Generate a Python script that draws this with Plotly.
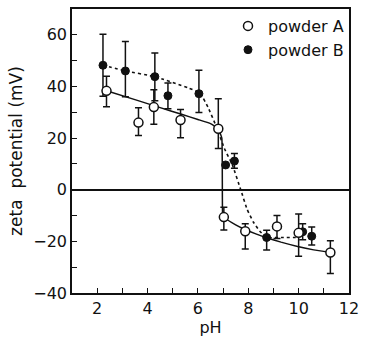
import plotly.graph_objects as go

# Measured zeta potential vs pH, powder A (open) and powder B (filled)
ph_a = [2.37, 3.64, 4.25, 5.31, 6.81, 7.03, 7.88, 9.14, 10.0, 11.26]
zeta_a = [38.3, 26.0, 32.0, 27.0, 23.6, -10.6, -16.1, -14.2, -16.7, -24.3]
err_up_a = [5.7, 5.8, 6.7, 4.1, 11.6, 3.8, 2.9, 4.2, 7.3, 4.5]
err_dn_a = [6.2, 5.0, 6.6, 6.9, 7.6, 5.0, 6.9, 4.7, 9.1, 8.1]

ph_b = [2.23, 3.12, 4.29, 4.81, 6.04, 7.10, 7.45, 8.73, 10.16, 10.52]
zeta_b = [48.2, 46.0, 43.8, 36.4, 37.2, 9.6, 11.1, -18.5, -16.3, -18.0]
err_up_b = [12.0, 11.4, 9.2, 4.9, 9.1, 0.0, 2.9, 2.8, 3.1, 3.6]
err_dn_b = [12.0, 10.0, 9.3, 5.0, 7.3, 0.0, 2.8, 4.8, 3.1, 3.4]

# Hand-drawn trend curves through each data set
curve_a_ph = [2.37, 3.5, 4.5, 5.35, 6.0, 6.5, 6.81, 6.95, 6.98, 7.03,
              7.5, 7.85, 8.3, 8.73, 9.3, 9.96, 10.6, 11.26]
curve_a_zeta = [38.3, 34.9, 31.8, 29.2, 27.2, 25.6, 23.6, 20.0, -9.0, -10.6,
                -13.6, -15.3, -17.1, -18.6, -20.3, -22.0, -23.3, -24.3]

curve_b_ph = [2.23, 3.12, 4.29, 5.6, 6.08, 6.4, 6.75, 7.05, 7.37, 7.7,
              7.95, 8.2, 8.45, 8.73, 9.4, 10.0]
curve_b_zeta = [48.2, 46.0, 43.8, 39.5, 37.5, 32.0, 24.0, 16.0, 9.6, 0.0,
                -7.5, -12.5, -16.0, -18.5, -18.5, -18.5]

FONT = "DejaVu Sans"
INK = "#111111"

fig = go.Figure()

fig.add_trace(go.Scatter(
    x=curve_a_ph, y=curve_a_zeta, mode="lines",
    line=dict(color=INK, width=1.5, shape="spline", smoothing=0.3),
    showlegend=False, hoverinfo="skip"))

fig.add_trace(go.Scatter(
    x=curve_b_ph, y=curve_b_zeta, mode="lines",
    line=dict(color=INK, width=1.6, dash="dot", shape="spline", smoothing=0.3),
    showlegend=False, hoverinfo="skip"))

fig.add_trace(go.Scatter(
    x=ph_b, y=zeta_b, mode="markers", name="powder B",
    marker=dict(symbol="circle", size=8, color=INK, line=dict(color=INK, width=1)),
    error_y=dict(type="data", symmetric=False, array=err_up_b, arrayminus=err_dn_b,
                 color=INK, thickness=1.5, width=3.5)))

fig.add_trace(go.Scatter(
    x=ph_a, y=zeta_a, mode="markers", name="powder A",
    marker=dict(symbol="circle", size=9, color="white", line=dict(color=INK, width=1.5)),
    error_y=dict(type="data", symmetric=False, array=err_up_a, arrayminus=err_dn_a,
                 color=INK, thickness=1.5, width=3.5)))

axis_common = dict(
    showline=True, linecolor=INK, linewidth=1.6, mirror=True,
    ticks="inside", ticklen=5, tickwidth=1.3, tickcolor=INK,
    showgrid=False, tickfont=dict(family=FONT, size=16, color=INK),
)

fig.update_xaxes(
    range=[1, 12], tick0=0, dtick=2,
    minor=dict(dtick=1, tick0=0, ticks="inside", ticklen=5, tickwidth=1.3, tickcolor=INK),
    title=dict(text="pH", font=dict(family=FONT, size=16, color=INK), standoff=2),
    zeroline=False, **axis_common)

fig.update_yaxes(
    range=[-40, 70], tick0=0, dtick=20,
    minor=dict(dtick=10, tick0=0, ticks="inside", ticklen=5, tickwidth=1.3, tickcolor=INK),
    title=dict(text="zeta  potential (mV)", font=dict(family=FONT, size=17, color=INK),
               standoff=6),
    zeroline=True, zerolinecolor=INK, zerolinewidth=1.6, **axis_common)

fig.update_layout(
    width=366, height=338,
    margin=dict(l=72, r=11, t=7, b=41),
    paper_bgcolor="white", plot_bgcolor="white",
    font=dict(family=FONT, color=INK),
    legend=dict(x=1, y=1, xanchor="right", yanchor="top",
                bgcolor="rgba(0,0,0,0)", font=dict(family=FONT, size=16, color=INK),
                tracegroupgap=0, itemwidth=30, traceorder="reversed"),
)

fig.write_html("out.html")
